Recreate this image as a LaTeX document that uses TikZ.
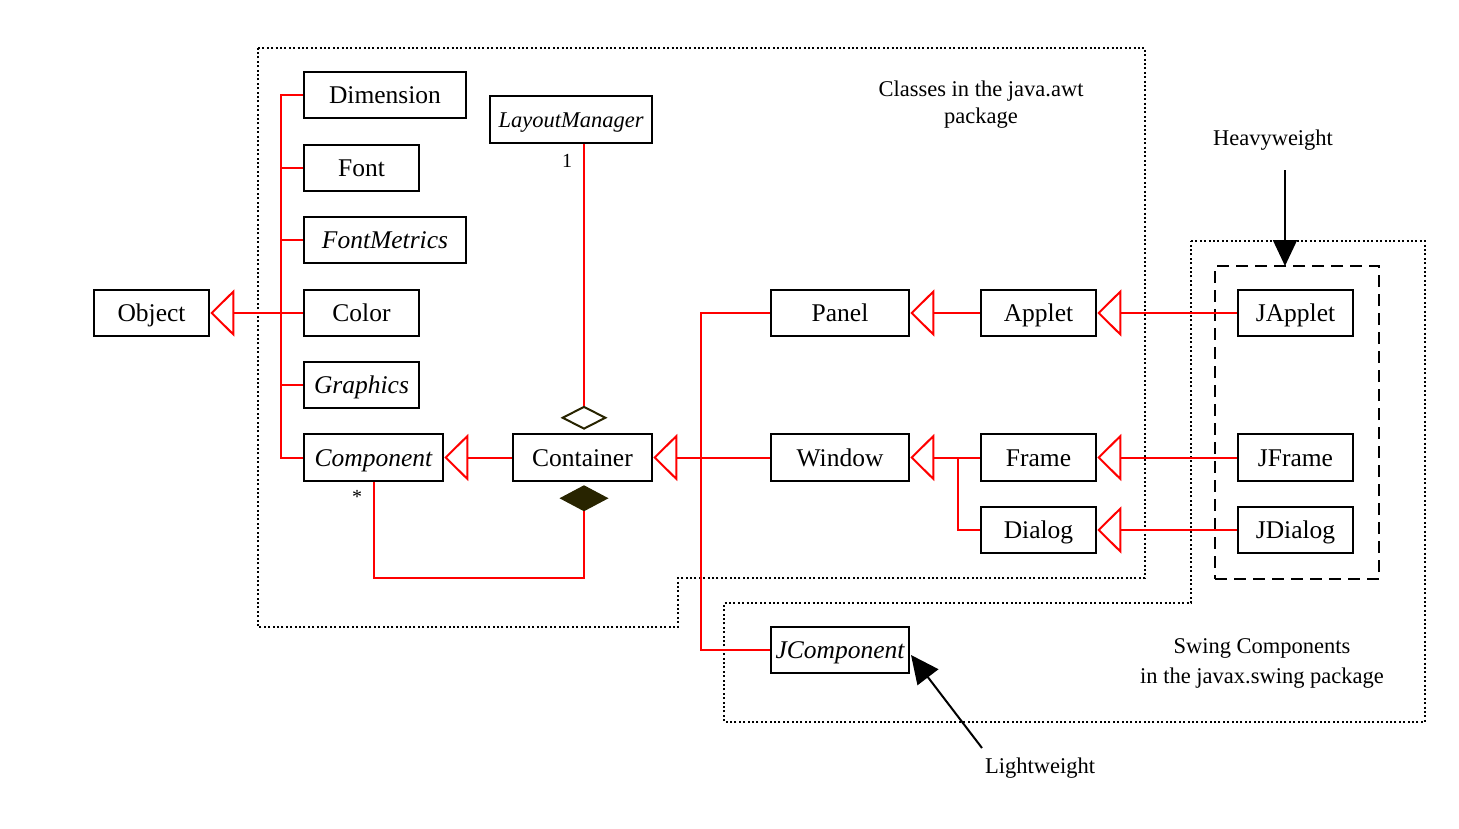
\documentclass[tikz,border=0pt]{standalone}
\usepackage{fontspec}
\setmainfont{Liberation Serif}
\usetikzlibrary{arrows.meta}
\definecolor{dk}{RGB}{40,36,0}
\begin{document}
\begin{tikzpicture}[x=1pt,y=-1pt,
  box/.style={draw, line width=2.5pt, minimum height=46pt, inner sep=0pt,
    text height=17pt, text depth=0pt, font=\fontsize{25.5}{30}\selectfont},
  redline/.style={draw=red, line width=2pt},
  gen/.style={redline, -{Triangle[open, length=24pt, width=47pt]}},
  lbl/.style={font=\fontsize{22.5}{27}\selectfont, align=center},
  dotline/.style={line width=2pt, dash pattern=on 2pt off 2.4pt},
  dashline/.style={line width=2.5pt, dash pattern=on 12pt off 7pt},
  blackarrow/.style={line width=2pt, -{Triangle[length=26pt, width=24pt]}}]
\useasboundingbox (0,0) rectangle (1459,828);

% regions
\draw[dotline] (258,48) -- (1145,48) -- (1145,578) -- (678,578) -- (678,627) -- (258,627) -- cycle;
\draw[dotline] (1191,241) -- (1425,241) -- (1425,722) -- (724,722) -- (724,603) -- (1191,603) -- cycle;
\node[draw, dashline, minimum width=164pt, minimum height=313pt, inner sep=0pt] (hw) at (1297,422.5) {};

% boxes
\node[box, minimum width=115pt] (Object) at (151.5,313) {Object};
\node[box, minimum width=162pt] (Dimension) at (385,95) {Dimension};
\node[box, minimum width=115pt] (Font) at (361.5,168) {Font};
\node[box, minimum width=162pt] (FontMetrics) at (385,240) {\itshape FontMetrics};
\node[box, minimum width=115pt] (Color) at (361.5,313) {Color};
\node[box, minimum width=115pt] (Graphics) at (361.5,385) {\itshape Graphics};
\node[box, minimum width=139pt, minimum height=47pt] (Component) at (373.5,457.5) {\itshape Component};
\node[box, minimum width=162pt, minimum height=47pt, text height=15pt, font=\fontsize{22.5}{27}\selectfont] (LM) at (571,119.5) {\itshape LayoutManager};
\node[box, minimum width=139pt, minimum height=47pt] (Container) at (582.5,457.5) {Container};
\node[box, minimum width=138pt] (Panel) at (840,313) {Panel};
\node[box, minimum width=138pt, minimum height=47pt] (Window) at (840,457.5) {Window};
\node[box, minimum width=115pt] (Applet) at (1038.5,313) {Applet};
\node[box, minimum width=115pt, minimum height=47pt] (Frame) at (1038.5,457.5) {Frame};
\node[box, minimum width=115pt] (Dialog) at (1038.5,530) {Dialog};
\node[box, minimum width=115pt] (JApplet) at (1295.5,313) {JApplet};
\node[box, minimum width=115pt, minimum height=47pt] (JFrame) at (1295.5,457.5) {JFrame};
\node[box, minimum width=115pt] (JDialog) at (1295.5,530) {JDialog};
\node[box, minimum width=138pt] (JComponent) at (840,650) {\itshape JComponent};

% trunk to Object
\coordinate (tx) at (281,0);
\draw[redline] (Dimension.west) -- (Dimension.west -| tx) -- (Component.west -| tx) -- (Component.west);
\draw[redline] (Font.west) -- (Font.west -| tx);
\draw[redline] (FontMetrics.west) -- (FontMetrics.west -| tx);
\draw[redline] (Graphics.west) -- (Graphics.west -| tx);
\draw[gen] (Color.west) -- (Object.east);

% generalizations
\draw[gen] (Container.west) -- (Component.east);
\draw[gen] (Window.west) -- (Container.east);
\coordinate (vx) at (701,0);
\draw[redline] (Panel.west) -- (Panel.west -| vx) -- (JComponent.west -| vx) -- (JComponent.west);
\draw[gen] (Applet.west) -- (Panel.east);
\draw[gen] (Frame.west) -- (Window.east);
\coordinate (vx2) at (958,0);
\draw[redline] (Dialog.west) -- (Dialog.west -| vx2) -- (Frame.west -| vx2);
\draw[gen] (JApplet.west) -- (Applet.east);
\draw[gen] (JFrame.west) -- (Frame.east);
\draw[gen] (JDialog.west) -- (Dialog.east);

% aggregation and composition
\coordinate (ax) at (584,0);
\draw[redline, -{Diamond[open, length=24pt, width=47pt, color=dk]}, shorten >=3pt]
  (LM.south -| ax) -- (Container.north -| ax);
\draw[redline, {Diamond[length=26pt, width=49pt, color=dk, fill=dk]}-, shorten <=3pt]
  (Container.south -| ax) -- (584,578) -| (Component.south);
\node[font=\fontsize{20}{24}\selectfont] (one) at (567,161) {1};
\node[font=\fontsize{20}{24}\selectfont] (star) at (357,497) {*};

% labels
\node[lbl] (awt) at (981,105) {Classes in the java.awt\\package};
\node[lbl, font=\fontsize{22.5}{30}\selectfont] (swing) at (1262,663) {Swing Components\\in the javax.swing package};
\node[lbl] (hvy) at (1273,140) {Heavyweight};
\node[lbl] (lw) at (1040,768) {Lightweight};

% arrows
\coordinate (hvs) at (1285,170);
\coordinate (hvt) at (1285,266);
\draw[blackarrow] (hvs) -- (hvt);
\coordinate (lws) at (982,748);
\coordinate (lwt) at (911,655);
\draw[line width=2pt, -{Triangle[length=28pt, width=26pt]}] (lws) -- (lwt);
\end{tikzpicture}
\end{document}
